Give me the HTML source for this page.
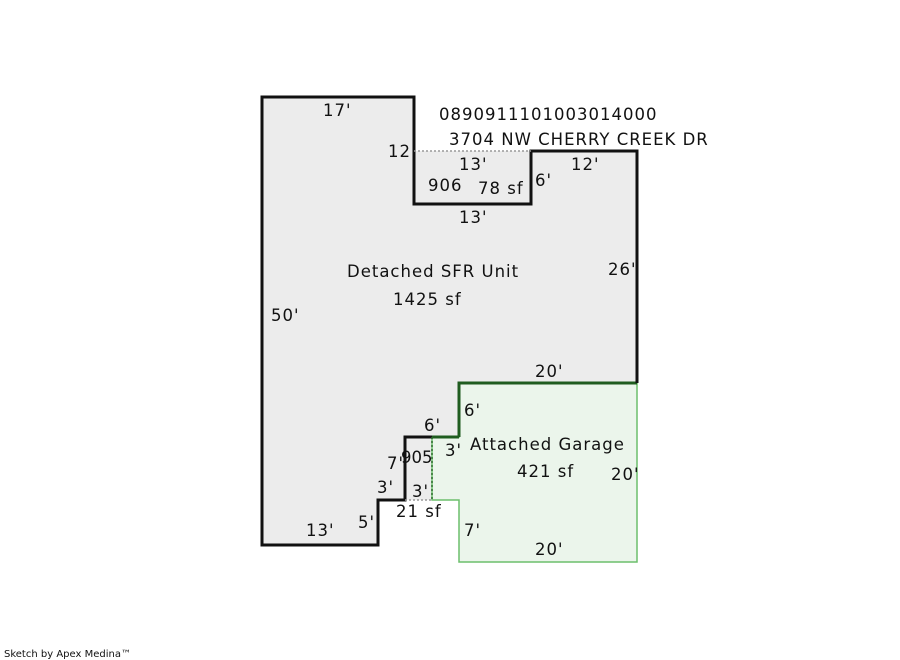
<!DOCTYPE html>
<html><head><style>body{margin:0;background:#fff}svg{display:block}text{font-family:"DejaVu Sans","Liberation Sans",sans-serif;font-size:16.5px;letter-spacing:1px;fill:#111}</style></head><body>
<svg width="900" height="660" xmlns="http://www.w3.org/2000/svg">
<polygon points="262,97 414,97 414,151 637,151 637,383 459,383 459,437 432,437 432,500 378,500 378,545 262,545" fill="#ececec"/>
<polygon points="459,383 637,383 637,562 459,562 459,500 432,500 432,437 459,437" fill="#ebf5eb" stroke="#6cbf6c" stroke-width="1.5"/>
<polyline points="459,437 459,383 637,383" fill="none" stroke="#1f5c1f" stroke-width="3"/>
<line x1="432" y1="437" x2="459" y2="437" stroke="#1f5c1f" stroke-width="3"/>
<polyline points="432,437 405,437 405,500 378,500 378,545 262,545 262,97 414,97 414,204 531,204 531,151 637,151 637,383" fill="none" stroke="#111" stroke-width="3"/>
<line x1="414" y1="151" x2="531" y2="151" stroke="#999" stroke-width="1.5" stroke-dasharray="2,2"/>
<line x1="432" y1="437" x2="432" y2="500" stroke="#2a6a2a" stroke-width="1.5" stroke-dasharray="2,2"/>
<line x1="405" y1="500" x2="432" y2="500" stroke="#999" stroke-width="1.5" stroke-dasharray="2,2"/>
<text x="323" y="116">17'</text>
<text x="439" y="120">0890911101003014000</text>
<text x="449" y="145">3704 NW CHERRY CREEK DR</text>
<text x="388" y="157">12'</text>
<text x="459" y="170">13'</text>
<text x="571" y="170">12'</text>
<text x="428" y="191">906</text>
<text x="478" y="194">78 sf</text>
<text x="535" y="186">6'</text>
<text x="459" y="223">13'</text>
<text x="347" y="277">Detached SFR Unit</text>
<text x="393" y="305">1425 sf</text>
<text x="608" y="275">26'</text>
<text x="271" y="321">50'</text>
<text x="535" y="377">20'</text>
<text x="464" y="416">6'</text>
<text x="424" y="431">6'</text>
<text x="445" y="456">3'</text>
<text x="470" y="450">Attached Garage</text>
<text x="517" y="477">421 sf</text>
<text x="611" y="480">20'</text>
<text x="387" y="469">7'</text>
<text x="401" y="463" style="letter-spacing:0">905</text>
<text x="377" y="493">3'</text>
<text x="412" y="497">3'</text>
<text x="396" y="517">21 sf</text>
<text x="358" y="528">5'</text>
<text x="306" y="536">13'</text>
<text x="464" y="536">7'</text>
<text x="535" y="555">20'</text>
<text x="4" y="657" style="font-size:10px;letter-spacing:0">Sketch by Apex Medina™</text>
</svg>
</body></html>
